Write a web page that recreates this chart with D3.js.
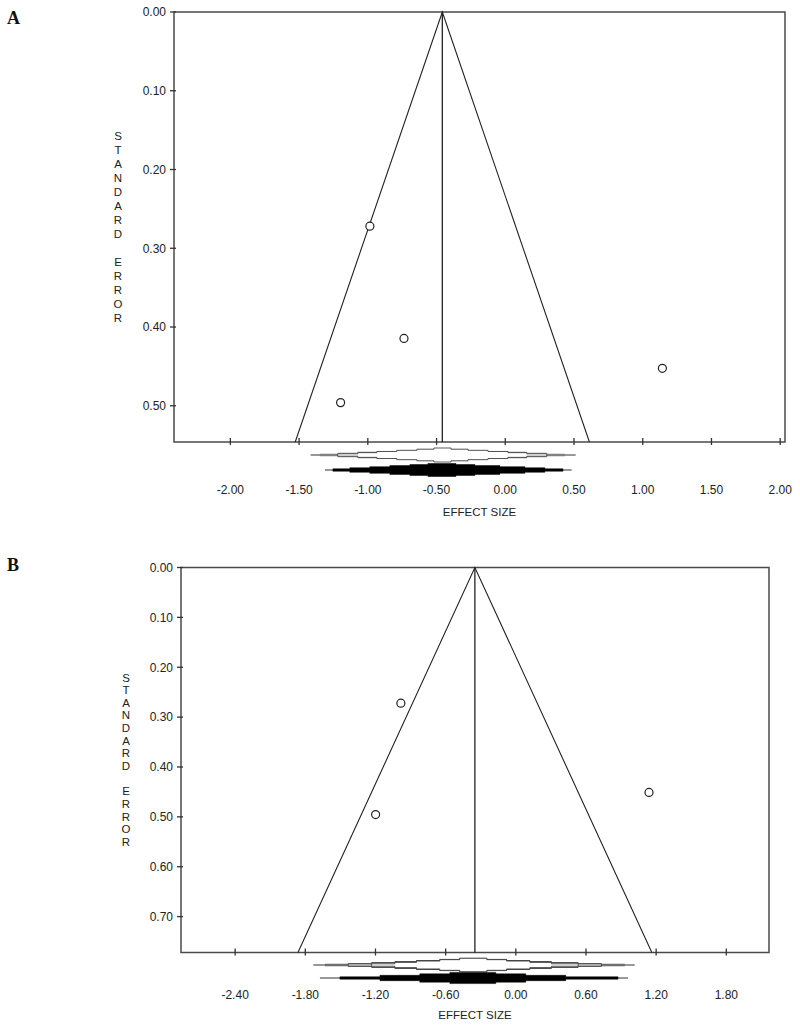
<!DOCTYPE html>
<html>
<head>
<meta charset="utf-8">
<script src="https://cdn.jsdelivr.net/npm/d3@7"></script>
<style>
  body { margin: 0; background: #fff; font-family: Arial, "Liberation Sans", sans-serif; }
  svg { display: block; }
  text.lbl { font-family: Arial, "Liberation Sans", sans-serif; fill: #222; }
  text.letter { font-family: "Times New Roman", "Liberation Serif", serif; font-weight: bold; fill: #111; }
</style>
</head>
<body>
<div id="wrapper"></div>
<script>
// panel A data
const aEffect = [-0.985, -1.198, -0.737, 1.143];
const aSE = [0.272, 0.496, 0.4145, 0.4525];
const aPooled = -0.458;
const aDomainX = [-2.41, 2.035];
const aDomainY = [0, 0.546];
const aTicksX = [-2.0, -1.5, -1.0, -0.5, 0.0, 0.5, 1.0, 1.5, 2.0];
const aTicksY = [0.0, 0.1, 0.2, 0.3, 0.4, 0.5];
// stepped intervals under the plot, outermost first
const aTopLevels = [[-1.416, 0.512], [-1.349, 0.433], [-1.219, 0.302], [-1.073, 0.157],
    [-0.934, 0.019], [-0.789, -0.126], [-0.643, -0.271], [-0.519, -0.395]];
const aBottomLevels = [[-1.312, 0.483], [-1.254, 0.420], [-1.131, 0.288], [-0.986, 0.143],
    [-0.840, -0.039], [-0.694, -0.221], [-0.563, -0.359]];

// panel B data
const bEffect = [-0.983, -1.199, 1.139];
const bSE = [0.272, 0.4955, 0.451];
const bPooled = -0.350;
const bDomainX = [-2.863, 2.165];
const bDomainY = [0, 0.772];
const bTicksX = [-2.4, -1.8, -1.2, -0.6, 0.0, 0.6, 1.2, 1.8];
const bTicksY = [0.0, 0.1, 0.2, 0.3, 0.4, 0.5, 0.6, 0.7];
const bTopLevels = [[-1.732, 1.017], [-1.632, 0.932], [-1.433, 0.732], [-1.233, 0.533],
    [-1.034, 0.304], [-0.849, 0.120], [-0.650, -0.079], [-0.479, -0.248]];
const bBottomLevels = [[-1.675, 0.960], [-1.504, 0.874], [-1.162, 0.427], [-0.821, 0.085],
    [-0.564, -0.171]];

const yLabel = "STANDARD ERROR";
const xLabel = "EFFECT SIZE";

const fmt = d => d3.format(".2f")(d).replace("\u2212", "-");

const svg = d3.select("#wrapper").append("svg")
    .attr("width", 800)
    .attr("height", 1028)
    .style("font-family", "Arial, 'Liberation Sans', sans-serif");

function steppedPath(levels, x, cy, maxH) {
    // top half from left to right, then mirrored back
    const n = levels.length;
    const h = levels.map((d, i) => n == 1 ? maxH : 1.2 + (maxH - 1.2) * i / (n - 1));
    const top = [[x(levels[0][0]), cy]];
    for (let i = 0; i < n; i++) {
        top.push([x(levels[i][0]), cy - h[i]]);
        if (i < n - 1) top.push([x(levels[i + 1][0]), cy - h[i]]);
    }
    top.push([x(levels[n - 1][1]), cy - h[n - 1]]);
    for (let i = n - 1; i > 0; i--) {
        top.push([x(levels[i][1]), cy - h[i - 1]]);
        top.push([x(levels[i - 1][1]), cy - h[i - 1]]);
    }
    top.push([x(levels[0][1]), cy]);
    const bottom = top.slice().reverse().map(p => [p[0], 2 * cy - p[1]]);
    return d3.line()(top.concat(bottom)) + "Z";
}

function drawPanel(cfg) {
    const x = d3.scaleLinear().domain(cfg.domainX).range([cfg.left, cfg.right]);
    const y = d3.scaleLinear().domain(cfg.domainY).range([cfg.top, cfg.bottom]);
    const g = svg.append("g");

    // frame
    g.append("rect")
        .attr("x", cfg.left).attr("y", cfg.top)
        .attr("width", cfg.right - cfg.left).attr("height", cfg.bottom - cfg.top)
        .attr("fill", "none").attr("stroke", "#4a4a4a").attr("stroke-width", 1.5);

    // y ticks + labels
    const yTick = g.selectAll(".yt").data(cfg.ticksY).enter().append("g");
    yTick.append("line")
        .attr("x1", cfg.left - 4).attr("x2", cfg.left + 2)
        .attr("y1", d => y(d)).attr("y2", d => y(d))
        .attr("stroke", "#333").attr("stroke-width", 1.3);
    yTick.append("text")
        .attr("class", "lbl")
        .attr("x", cfg.left - 8).attr("y", d => y(d) + 4.3)
        .attr("text-anchor", "end").attr("font-size", 12)
        .text(fmt);

    // x ticks + labels
    const xTick = g.selectAll(".xt").data(cfg.ticksX).enter().append("g");
    xTick.append("line")
        .attr("x1", d => x(d)).attr("x2", d => x(d))
        .attr("y1", cfg.bottom - 4).attr("y2", cfg.bottom + 3)
        .attr("stroke", "#333").attr("stroke-width", 1.3);
    xTick.append("text")
        .attr("class", "lbl")
        .attr("x", d => x(d)).attr("y", cfg.bottom + cfg.tickLabelDy)
        .attr("text-anchor", "middle").attr("font-size", 12)
        .text(fmt);

    // funnel
    const seMax = cfg.domainY[1];
    const funnel = [[cfg.pooled - 1.96 * seMax, seMax], [cfg.pooled, 0], [cfg.pooled + 1.96 * seMax, seMax]];
    g.append("path")
        .attr("d", d3.line().x(d => x(d[0])).y(d => y(d[1]))(funnel))
        .attr("fill", "none").attr("stroke", "#222").attr("stroke-width", 1.1);
    g.append("line")
        .attr("x1", x(cfg.pooled)).attr("x2", x(cfg.pooled))
        .attr("y1", y(0)).attr("y2", y(seMax))
        .attr("stroke", "#222").attr("stroke-width", 1.3);

    // studies
    g.selectAll(".pt").data(cfg.effect).enter().append("circle")
        .attr("cx", d => x(d))
        .attr("cy", (d, i) => y(cfg.se[i]))
        .attr("r", 4)
        .attr("fill", "#fff").attr("stroke", "#222").attr("stroke-width", 1.2);

    // upper stepped shape (outlined)
    const tl = cfg.topLevels;
    const cyT = cfg.bottom + cfg.topDy;
    g.append("line")
        .attr("x1", x(tl[0][0])).attr("x2", x(tl[0][1]))
        .attr("y1", cyT).attr("y2", cyT)
        .attr("stroke", "#333").attr("stroke-width", 1);
    cfg.topFills.forEach((fill, k) => {
        const lv = tl.slice(k + 1);
        g.append("path")
            .attr("d", steppedPath(lv, x, cyT, cfg.topH))
            .attr("fill", fill)
            .attr("stroke", k == 0 ? "none" : "#333")
            .attr("stroke-width", 0.8);
    });

    // lower stepped shape (filled)
    const bl = cfg.bottomLevels;
    const cyB = cfg.bottom + cfg.bottomDy;
    g.append("line")
        .attr("x1", x(bl[0][0])).attr("x2", x(bl[0][1]))
        .attr("y1", cyB).attr("y2", cyB)
        .attr("stroke", "#333").attr("stroke-width", 1);
    g.append("path")
        .attr("d", steppedPath(bl.slice(1), x, cyB, cfg.bottomH))
        .attr("fill", "#000").attr("stroke", "#000").attr("stroke-width", 0.5);

    // axis titles
    g.append("text")
        .attr("class", "lbl")
        .attr("x", (cfg.left + cfg.right) / 2).attr("y", cfg.bottom + cfg.xTitleDy)
        .attr("text-anchor", "middle").attr("font-size", 11.5)
        .text(xLabel);
    g.append("text")
        .attr("class", "lbl")
        .attr("x", cfg.yTitleX).attr("y", cfg.yTitleY)
        .attr("text-anchor", "middle").attr("font-size", 11.5)
        .selectAll("tspan").data(yLabel.split("")).enter().append("tspan")
        .attr("x", cfg.yTitleX)
        .attr("dy", (d, i) => i == 0 ? 0 : cfg.yTitleStep)
        .text(d => d == " " ? "\u00a0" : d);

    // panel letter
    svg.append("text")
        .attr("class", "letter")
        .attr("x", 7).attr("y", cfg.letterY)
        .attr("font-size", 18)
        .text(cfg.letter);
}

drawPanel({
    letter: "A", letterY: 24,
    left: 174, right: 785, top: 12, bottom: 442,
    domainX: aDomainX, domainY: aDomainY,
    ticksX: aTicksX, ticksY: aTicksY,
    effect: aEffect, se: aSE, pooled: aPooled,
    topLevels: aTopLevels, bottomLevels: aBottomLevels,
    topFills: ["#808080", "#fff"], topDy: 13, topH: 7,
    bottomDy: 28, bottomH: 6.5,
    tickLabelDy: 51.5, xTitleDy: 73.5,
    yTitleX: 118, yTitleY: 139.5, yTitleStep: 14
});

drawPanel({
    letter: "B", letterY: 571,
    left: 181, right: 769, top: 567.5, bottom: 952.5,
    domainX: bDomainX, domainY: bDomainY,
    ticksX: bTicksX, ticksY: bTicksY,
    effect: bEffect, se: bSE, pooled: bPooled,
    topLevels: bTopLevels, bottomLevels: bBottomLevels,
    topFills: ["#6e6e6e", "#cfcfcf", "#fff"], topDy: 12.5, topH: 6.7,
    bottomDy: 25.5, bottomH: 5.6,
    tickLabelDy: 46, xTitleDy: 66.5,
    yTitleX: 126, yTitleY: 681.5, yTitleStep: 12.65
});
</script>
</body>
</html>
